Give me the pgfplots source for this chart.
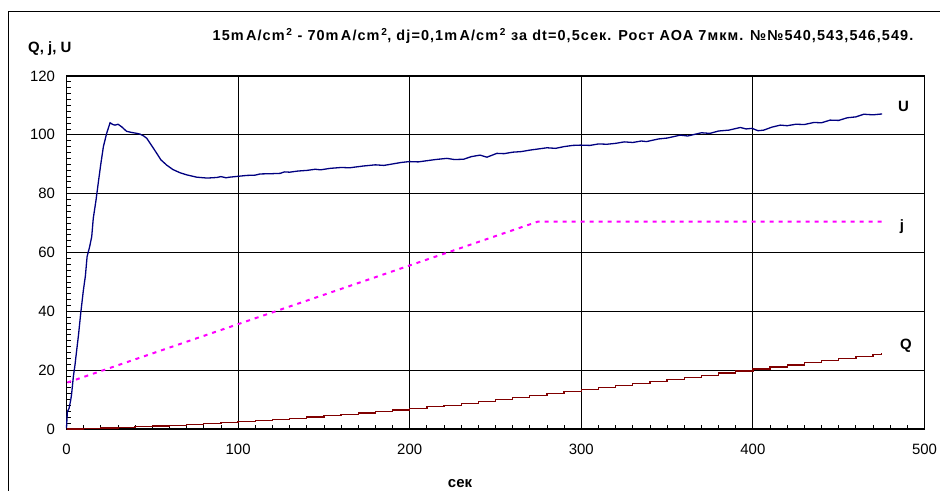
\documentclass[border=0pt]{standalone}
\usepackage{fontspec}
\setmainfont{Liberation Sans}
\usepackage{pgfplots}
\pgfplotsset{compat=1.18}
\definecolor{uline}{RGB}{0,0,128}
\definecolor{qline}{RGB}{128,0,0}
\definecolor{jline}{RGB}{255,0,255}

\begin{document}
\begin{tikzpicture}
\path[use as bounding box] (0,0) rectangle (940bp,491bp);
% outer frame (cut at right and bottom in the original)
\draw[black, line width=1bp] (8bp,0) -- (8bp,479bp) -- (940bp,479bp);

\begin{axis}[
    at={(66.5bp,62bp)}, anchor=south west,
    scale only axis, width=858bp, height=353bp,
    xmin=0, xmax=500, ymin=0, ymax=120,
    xtick distance=100, ytick distance=20,
    minor x tick num=9, minor y tick num=9,
    xtick pos=bottom, ytick pos=left,
    tick align=inside,
    major tick length=0pt, minor tick length=4bp,
    tick style={black, line width=0.8bp},
    grid=major,
    major grid style={black, line width=1bp},
    axis line style={black, line width=1.1bp},
    /pgf/number format/assume math mode=true,
    ticklabel style={font=\fontsize{15}{15}\selectfont},
    xticklabel style={yshift=-12bp},
    yticklabel style={xshift=-8bp},
    clip=false,
  ]
  % Q
  \addplot[qline, line width=1.3bp, const plot] coordinates {
    (0,0)(10,0.2)(20,0.3)(30,0.5)(40,0.8)(50,1.0)(60,1.3)(70,1.5)(80,1.8)(90,2.2)
    (100,2.5)(110,2.9)(120,3.2)(130,3.6)(140,4.1)(150,4.5)(160,5.0)(170,5.4)(180,5.9)(190,6.5)
    (200,7.0)(210,7.6)(220,8.1)(230,8.7)(240,9.4)(250,10.0)(260,10.7)(270,11.3)(280,12.0)(290,12.7)
    (300,13.4)(310,14.1)(320,14.8)(330,15.5)(340,16.2)(350,16.9)(360,17.6)(370,18.3)(380,19.0)(390,19.7)
    (400,20.4)(410,21.1)(420,21.8)(430,22.5)(440,23.2)(450,23.9)(460,24.6)(470,25.3)(475,25.7)
  };
  % j
  \addplot[jline, line width=2bp, dash pattern=on 4bp off 5bp] coordinates {
    (0.5,15.8)(274.7,70.5)(475,70.5)
  };
  % U
  \addplot[uline, line width=1.3bp] coordinates {
    (0,0.3)(0.5,5.9)(1.5,7)(2.5,10)(3,12)(4,17.8)(5,22)(5.5,24.6)(7,32)(8.3,39.4)
    (9.8,47)(11,52)(12,58.6)(13.5,62)(14.7,65.4)(15.6,71.6)(17.2,77.8)(18.5,83.6)(19.9,89.7)
    (21.5,96)(23.4,100.5)(25.4,104.1)(27,103.5)(28.3,103.3)(30,103.6)(32,102.8)(35,101.2)
    (38,100.8)(41,100.5)(43,100.2)(45,99.6)(46.8,98.8)(50,96)(52.6,93.7)(55,91.5)(58.4,89.7)
    (62,88.2)(66.2,87.1)(70,86.4)(75.9,85.6)(82,85.3)(87.6,85.5)(90,85.8)(93,85.4)(95,85.6)
    (100,85.9)(105,86.2)(110,86.3)(112.8,86.7)(120,86.8)(124.5,86.9)(127,87.4)(130,87.3)
    (135,87.7)(140,87.9)(145,88.3)(148,88.1)(153.6,88.6)(160,88.9)(165,88.8)(173,89.4)
    (180,89.8)(185,89.6)(190,90.1)(195,90.6)(199.7,90.9)(205,90.8)(210,91.2)(215,91.6)
    (221.7,92)(226,91.6)(231.4,91.7)(236,92.6)(241,93.1)(245,92.4)(250.8,93.7)(255,93.6)
    (260,94.1)(265,94.3)(270,94.8)(275,95.2)(280,95.6)(285,95.4)(290,96)(295,96.4)
    (299.4,96.5)(305,96.4)(310,96.9)(315,96.8)(320,97.1)(325,97.6)(330,97.4)(335,97.9)
    (338,97.7)(345,98.6)(350,98.9)(357.7,99.9)(362,99.6)(370,100.7)(375,100.5)(380,101.3)
    (386,101.6)(392.7,102.5)(396,102.0)(399.5,102.2)(403,101.4)(406.3,101.6)(411,102.6)
    (416,103.3)(420,103.1)(425,103.6)(430,103.5)(435.5,104.2)(440,104.1)(445,105)(450,104.9)
    (455,105.8)(460,106.1)(464.6,107)(470,106.8)(475.3,107.1)
  };
\end{axis}

% texts
\node[anchor=base, inner sep=0, font=\fontsize{14.5}{15}\selectfont\bfseries\addfontfeature{LetterSpace=7.5}] at (563bp,450.7bp)
  {15m\,A/cm\textsuperscript{\,2} - 70m\,A/cm\textsuperscript{\,2}, dj=0,1m\,A/cm\textsuperscript{\,2} за dt=0,5сек. Рост АОА 7мкм. №№540,543,546,549.};
\node[anchor=base west, inner sep=0, font=\fontsize{15}{15}\selectfont\bfseries] at (28bp,438.7bp) {Q, j, U};
\node[anchor=base, inner sep=0, font=\fontsize{15}{15}\selectfont\bfseries] at (460bp,3.3bp) {сек};
\node[anchor=base, inner sep=0, font=\fontsize{15}{15}\selectfont\bfseries] at (903.5bp,379.3bp) {U};
\node[anchor=base, inner sep=0, font=\fontsize{15}{15}\selectfont\bfseries] at (902bp,260bp) {j};
\node[anchor=base, inner sep=0, font=\fontsize{15}{15}\selectfont\bfseries] at (906bp,141bp) {Q};
\end{tikzpicture}
\end{document}
